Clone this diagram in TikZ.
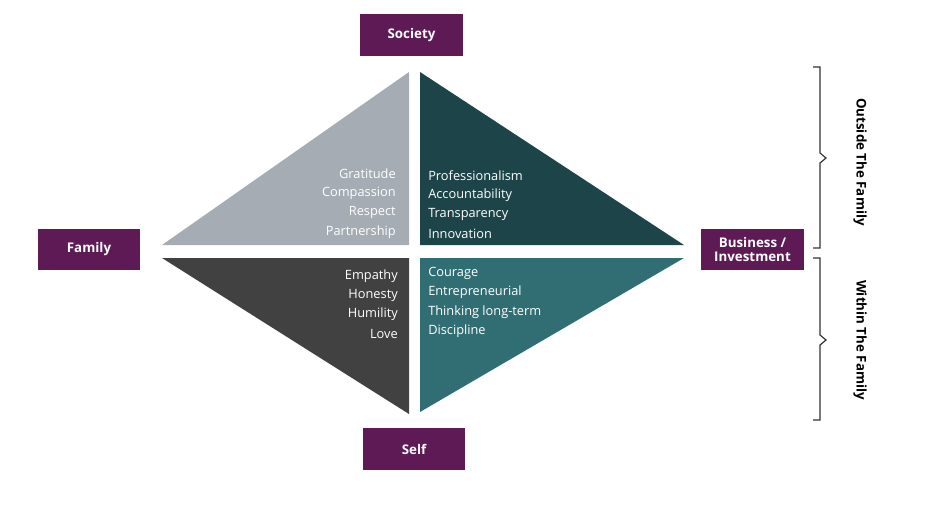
\documentclass[tikz,border=0pt]{standalone}
\usepackage{fontspec}
\setmainfont{Open Sans}
\begin{document}
\begin{tikzpicture}[x=0.75pt,y=-0.75pt,
  box/.style={fill=purple!0!plum,text=white,font=\bfseries\fontsize{10}{11}\selectfont,minimum width=77pt,minimum height=31pt,inner sep=0pt,align=center},
  lt/.style={text=white,font=\fontsize{9.6}{11}\selectfont,inner sep=0pt},
  br/.style={line width=0.9pt,black!80}]
\definecolor{plum}{HTML}{5E1A55}
\definecolor{tl}{HTML}{A5ACB3}
\definecolor{tr}{HTML}{1D4549}
\definecolor{bl}{HTML}{414142}
\definecolor{brc}{HTML}{316E73}
\useasboundingbox (0,0) rectangle (946,526);
\fill[tl] (409,72) -- (409,245) -- (162,245) -- cycle;
\fill[tr] (420,72) -- (420,245) -- (684,245) -- cycle;
\fill[bl] (162,258) -- (409,258) -- (409,414) -- cycle;
\fill[brc] (420,258) -- (684,258) -- (420,412) -- cycle;
\node[box] (soc) at (411.5,35) {Society};
\node[box] (fam) at (89,249.5) {Family};
\node[box] (bus) at (752.5,249.5) {Business /\\[-1pt]Investment};
\node[box] (self) at (414,449) {Self};
\foreach \t/\y [count=\i] in {Gratitude/174,Compassion/193,Respect/212,Partnership/232}
  \node[lt,anchor=east] (a\i) at (396,\y) {\t};
\foreach \t/\y [count=\i] in {Professionalism/176,Accountability/195,Transparency/214,Innovation/234}
  \node[lt,anchor=west] (b\i) at (428,\y) {\t};
\foreach \t/\y [count=\i] in {Empathy/276,Honesty/295,Humility/314,Love/334}
  \node[lt,anchor=east] (c\i) at (398,\y) {\t};
\foreach \t/\y [count=\i] in {Courage/273,Entrepreneurial/292,Thinking long-term/312,Discipline/331}
  \node[lt,anchor=west] (d\i) at (428,\y) {\t};
\draw[br] (813,67) -- (820,67) -- (820,153) -- (826,158) -- (820,163) -- (820,248) -- (813,248);
\draw[br] (813,258) -- (820,258) -- (820,335) -- (826,340) -- (820,345) -- (820,420) -- (813,420);
\node[rotate=-90,font=\bfseries\fontsize{10}{11}\selectfont] (out) at (860,162) {Outside The Family};
\node[rotate=-90,font=\bfseries\fontsize{10}{11}\selectfont] (in) at (860,340) {Within The Family};
\end{tikzpicture}
\end{document}
